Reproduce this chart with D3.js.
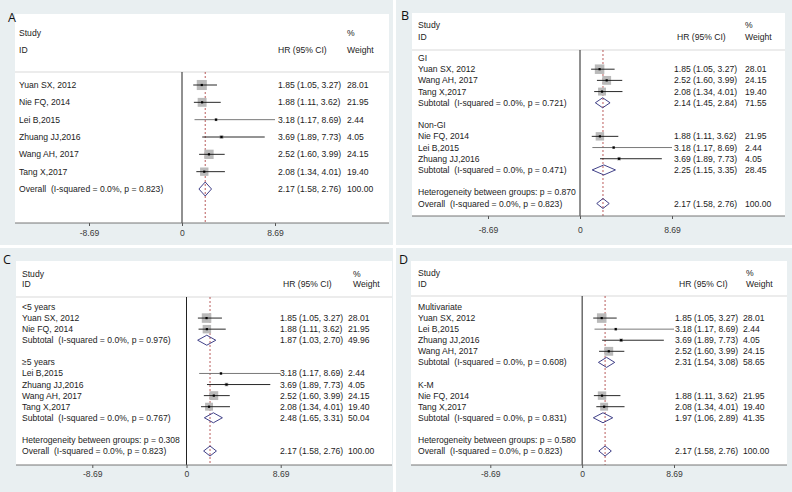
<!DOCTYPE html>
<html>
<head>
<meta charset="utf-8">
<script src="https://cdn.jsdelivr.net/npm/d3@7.9.0/dist/d3.min.js"></script>
<style>
  body { margin: 0; background: #fff; }
  svg { display: block; font-family: "Liberation Sans", Arial, sans-serif; }
  text { white-space: pre; }
</style>
</head>
<body>
<svg id="chart" width="792" height="492"></svg>
<script>
// study-level data
const studyNames = ["Yuan SX, 2012", "Nie FQ, 2014", "Lei B,2015", "Zhuang JJ,2016", "Wang AH, 2017", "Tang X,2017"];
const studyHR = [1.85, 1.88, 3.18, 3.69, 2.52, 2.08];
const studyLo = [1.05, 1.11, 1.17, 1.89, 1.60, 1.34];
const studyHi = [3.27, 3.62, 8.69, 7.73, 3.99, 4.01];
const studyWeight = [28.01, 21.95, 2.44, 4.05, 24.15, 19.40];

// pooled
const overallHR = [2.17, 1.58, 2.76];
const overallWeight = 100.00;
const overallP = "0.823";

// B: GI / Non-GI
const groupsB = ["GI", "Non-GI"];
const membersB = [[0, 4, 5], [1, 2, 3]];
const subHRB = [2.14, 2.25];
const subLoB = [1.45, 1.15];
const subHiB = [2.84, 3.35];
const subWB = [71.55, 28.45];
const subPB = ["0.721", "0.471"];
const hetPB = "0.870";

// C: follow-up
const groupsC = ["<5 years", "≥5 years"];
const membersC = [[0, 1], [2, 3, 4, 5]];
const subHRC = [1.87, 2.48];
const subLoC = [1.03, 1.65];
const subHiC = [2.70, 3.31];
const subWC = [49.96, 50.04];
const subPC = ["0.976", "0.767"];
const hetPC = "0.308";

// D: analysis method
const groupsD = ["Multivariate", "K-M"];
const membersD = [[0, 2, 3, 4], [1, 5]];
const subHRD = [2.31, 1.97];
const subLoD = [1.54, 1.06];
const subHiD = [3.08, 2.89];
const subWD = [58.65, 41.35];
const subPD = ["0.608", "0.831"];
const hetPD = "0.580";

const tickValues = [-8.69, 0, 8.69];

const fmtCI = (h, l, u) => `${h.toFixed(2)} (${l.toFixed(2)}, ${u.toFixed(2)})`;

function buildRows(groups, members, sHR, sLo, sHi, sW, sP, hetP) {
  const rows = [];
  if (!groups) {
    studyNames.forEach((_, i) => rows.push({ type: "study", i }));
  } else {
    groups.forEach((g, k) => {
      rows.push({ type: "group", label: g });
      members[k].forEach(i => rows.push({ type: "study", i }));
      rows.push({ type: "sub", hr: sHR[k], lo: sLo[k], hi: sHi[k], w: sW[k], p: sP[k] });
      rows.push({ type: "blank" });
    });
    rows.push({ type: "het", label: `Heterogeneity between groups: p = ${hetP}` });
  }
  rows.push({ type: "overall" });
  return rows;
}

// layout of each panel (pixels)
const panels = [
  { letter: "A", lx: 8, ly: 22, bg: [0, 0, 393, 245], box: [15, 14, 389, 223],
    studyY: 33, idY: 50, sepY: 72, firstY: 85, lastY: 189, range: [89, 275], tickPad: 4,
    colL: 19, colHR: 278, colHRh: 278, colW: 347, colWh: 347, dia: 14, boxK: 1.9,
    rows: buildRows(null) },
  { letter: "B", lx: 401, ly: 20, bg: [396, 0, 792, 245], box: [412, 13, 785, 216],
    studyY: 25, idY: 37, sepY: 50, firstY: 58, lastY: 203.5, range: [488, 672], tickPad: 8,
    colL: 418, colHR: 674, colHRh: 677, colW: 745, colWh: 745, dia: 10, boxK: 1.8,
    rows: buildRows(groupsB, membersB, subHRB, subLoB, subHiB, subWB, subPB, hetPB) },
  { letter: "C", lx: 3, ly: 264, bg: [0, 248, 393, 492], box: [16, 261, 392, 465],
    studyY: 274, idY: 284, sepY: 297, firstY: 307, lastY: 451, range: [92.3, 280.7], tickPad: 3,
    colL: 22, colHR: 280, colHRh: 283, colW: 348, colWh: 353, dia: 10, boxK: 1.8,
    rows: buildRows(groupsC, membersC, subHRC, subLoC, subHiC, subWC, subPC, hetPC) },
  { letter: "D", lx: 399, ly: 264, bg: [396, 248, 792, 492], box: [411, 261, 787, 465],
    studyY: 273, idY: 284, sepY: 296, firstY: 307, lastY: 451, range: [490.3, 674], tickPad: 3,
    colL: 418, colHR: 675, colHRh: 679, colW: 743, colWh: 746, dia: 10, boxK: 1.8,
    rows: buildRows(groupsD, membersD, subHRD, subLoD, subHiD, subWD, subPD, hetPD) }
];

const svg = d3.select("#chart");
const FS = 8.6;
const TXT = "#1c1c1c";

function drawPanel(p) {
  const g = svg.append("g");
  const [bx0, by0, bx1, by1] = p.bg;
  g.append("rect").attr("x", bx0).attr("y", by0).attr("width", bx1 - bx0).attr("height", by1 - by0)
    .attr("fill", "#e9eff1");
  const [x0, y0, x1, y1] = p.box;
  g.append("rect").attr("x", x0).attr("y", y0).attr("width", x1 - x0).attr("height", y1 - y0)
    .attr("fill", "#fff");

  g.append("text").attr("x", p.lx).attr("y", p.ly).text(p.letter)
    .attr("font-family", "'Open Sans', sans-serif").attr("font-size", 12.5).attr("fill", "#111");

  const x = d3.scaleLinear().domain([tickValues[0], tickValues[2]]).range(p.range);
  const y = d3.scaleLinear().domain([0, p.rows.length - 1]).range([p.firstY, p.lastY]);

  const txt = (tx, ty, s, anchor) => g.append("text").attr("x", tx).attr("y", ty).attr("dy", "0.35em")
    .attr("font-size", FS).attr("fill", TXT).attr("text-anchor", anchor || "start").text(s);

  // headers
  txt(p.colL, p.studyY, "Study");
  txt(p.colL, p.idY, "ID");
  txt(p.colHRh, p.idY, "HR (95% CI)");
  txt(p.colWh, p.studyY, "%");
  txt(p.colWh, p.idY, "Weight");
  g.append("line").attr("x1", x0).attr("x2", x1).attr("y1", p.sepY).attr("y2", p.sepY)
    .attr("stroke", "#cfcfcf").attr("stroke-width", 0.8);

  // null line and overall reference line
  g.append("line").attr("x1", x(0)).attr("x2", x(0)).attr("y1", p.sepY).attr("y2", y1)
    .attr("stroke", "#222").attr("stroke-width", 1);
  g.append("line").attr("x1", x(overallHR[0])).attr("x2", x(overallHR[0])).attr("y1", p.sepY).attr("y2", y1)
    .attr("stroke", "#a83232").attr("stroke-width", 0.8).attr("stroke-dasharray", "2,2");

  const diamond = (cy, h, l, u) => {
    const hh = p.dia / 2;
    g.append("path")
      .attr("d", `M${x(l)},${cy}L${x(h)},${cy - hh}L${x(u)},${cy}L${x(h)},${cy + hh}Z`)
      .attr("fill", "none").attr("stroke", "#2b2b7a").attr("stroke-width", 0.9);
  };

  p.rows.forEach((r, k) => {
    const cy = y(k);
    if (r.type === "study") {
      const i = r.i;
      txt(p.colL, cy, studyNames[i]);
      txt(p.colHR, cy, fmtCI(studyHR[i], studyLo[i], studyHi[i]));
      txt(p.colW, cy, studyWeight[i].toFixed(2));
      const side = p.boxK * Math.sqrt(studyWeight[i]);
      g.append("rect").attr("x", x(studyHR[i]) - side / 2).attr("y", cy - side / 2)
        .attr("width", side).attr("height", side).attr("fill", "#bababa");
      g.append("line").attr("x1", x(studyLo[i])).attr("x2", x(studyHi[i])).attr("y1", cy).attr("y2", cy)
        .attr("stroke", studyWeight[i] < 3 ? "#6a6a6a" : "#111").attr("stroke-width", 0.9);
      g.append("rect").attr("x", x(studyHR[i]) - 1.1).attr("y", cy - 1.1)
        .attr("width", 2.2).attr("height", 2.2).attr("fill", "#000");
    } else if (r.type === "group") {
      txt(p.colL, cy, r.label);
    } else if (r.type === "sub") {
      txt(p.colL, cy, `Subtotal  (I-squared = 0.0%, p = ${r.p})`);
      txt(p.colHR, cy, fmtCI(r.hr, r.lo, r.hi));
      txt(p.colW, cy, r.w.toFixed(2));
      diamond(cy, r.hr, r.lo, r.hi);
    } else if (r.type === "het") {
      txt(p.colL, cy, r.label);
    } else if (r.type === "overall") {
      txt(p.colL, cy, `Overall  (I-squared = 0.0%, p = ${overallP})`);
      txt(p.colHR, cy, fmtCI(overallHR[0], overallHR[1], overallHR[2]));
      txt(p.colW, cy, overallWeight.toFixed(2));
      diamond(cy, overallHR[0], overallHR[1], overallHR[2]);
    }
  });

  // x axis along the bottom of the plot region
  const ax = g.append("g").attr("transform", `translate(0,${y1})`)
    .call(d3.axisBottom(x).tickValues(tickValues).tickSize(3).tickPadding(p.tickPad)
      .tickFormat(d => d === 0 ? "0" : d.toFixed(2)));
  ax.select(".domain").remove();
  ax.selectAll(".tick line").attr("stroke", "#555");
  ax.selectAll(".tick text").attr("font-size", FS).attr("fill", "#3a3a3a")
    .attr("font-family", "'Liberation Sans', Arial, sans-serif");
  g.append("line").attr("x1", x0).attr("x2", x1).attr("y1", y1).attr("y2", y1)
    .attr("stroke", "#666").attr("stroke-width", 0.9);
}

panels.forEach(drawPanel);
</script>
</body>
</html>
